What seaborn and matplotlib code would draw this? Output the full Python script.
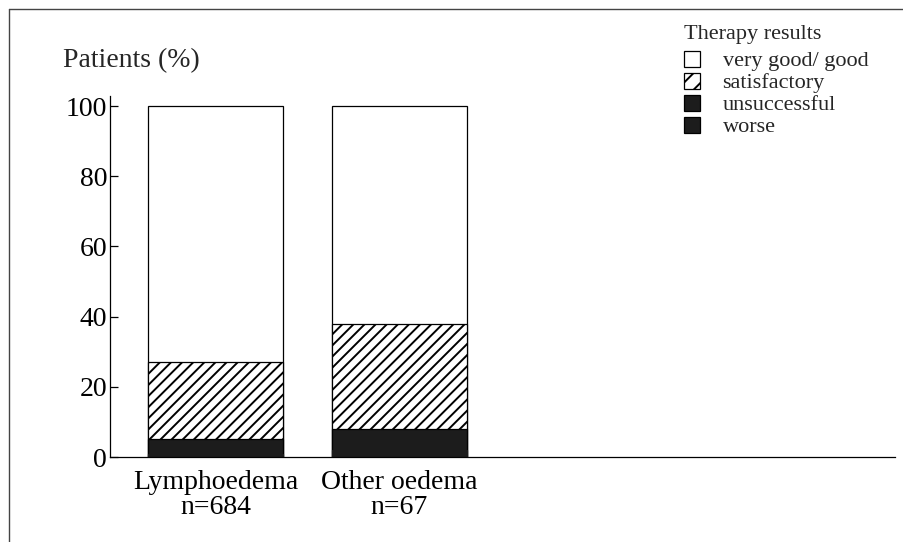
import matplotlib
matplotlib.use('Agg')
import matplotlib.pyplot as plt
from matplotlib.patches import Patch
from matplotlib.lines import Line2D
import seaborn as sns
import pandas as pd

sns.set_theme(style="white")
plt.rcParams['font.family'] = ['Liberation Serif', 'DejaVu Serif']
plt.rcParams['hatch.linewidth'] = 1.4

# --- data (percent of patients) ---
groups = ['Lymphoedema\nn=684', 'Other oedema\nn=67']
very_good = [73, 62]
satisfactory = [22, 30]
unsuccessful = [4, 6]
worse = [1, 2]
y_ticks = [0, 20, 40, 60, 80, 100]

df = pd.DataFrame({'group': groups, 'worse': worse, 'unsuccessful': unsuccessful,
                   'satisfactory': satisfactory, 'very_good': very_good})
df['c_worse'] = df['worse']
df['c_unsucc'] = df['c_worse'] + df['unsuccessful']
df['c_satis'] = df['c_unsucc'] + df['satisfactory']
df['c_total'] = df['c_satis'] + df['very_good']

fig = plt.figure(figsize=(9.04, 5.42), dpi=100)
ax = fig.add_axes([0.1217, 0.1568, 0.8683, 0.667])

dark = '#1c1c1c'
bar_w = 0.734
# draw cumulative totals back to front so they stack
layers = [('c_total', 'white', None, 'black'), ('c_satis', 'white', '///', 'black'),
          ('c_unsucc', dark, None, 'black'), ('c_worse', dark, None, dark)]
for col, fc, hatch, ec in layers:
    n0 = len(ax.patches)
    sns.barplot(data=df, x='group', y=col, color=fc, width=bar_w, saturation=1,
                edgecolor=ec, linewidth=0.9, ax=ax)
    for p in ax.patches[n0:]:
        p.set_facecolor(fc)
        if hatch:
            p.set_hatch(hatch)
            p.set_edgecolor('black')

ax.set_xlim(-0.573, 3.693)
ax.set_ylim(0, 103)
ax.set_yticks(y_ticks)
ax.set_yticklabels([str(t) for t in y_ticks])
ax.set_xlabel('')
ax.set_ylabel('')
for s in ['top', 'right']:
    ax.spines[s].set_visible(False)
for s in ['left', 'bottom']:
    ax.spines[s].set_color('black')
    ax.spines[s].set_linewidth(0.9)
ax.tick_params(axis='y', direction='in', length=6, width=0.9, pad=2, labelsize=20,
               left=True, colors='black')
ax.tick_params(axis='x', length=0, pad=9, labelsize=20, colors='black')
for lbl in ax.get_xticklabels():
    lbl.set_linespacing(1.05)

fig.text(0.07, 0.888, 'Patients (%)', fontsize=20, ha='left', va='center')

handles = [Patch(facecolor='white', edgecolor='black', linewidth=0.9),
           Patch(facecolor='white', edgecolor='black', hatch='//', linewidth=0.9),
           Patch(facecolor=dark, edgecolor='black', linewidth=0.9),
           Patch(facecolor=dark, edgecolor='black', linewidth=0.9)]
leg = fig.legend(handles, ['very good/ good', 'satisfactory', 'unsuccessful', 'worse'],
                 title='Therapy results', loc='upper left', bbox_to_anchor=(0.744, 0.975),
                 frameon=False, fontsize=16, title_fontsize=16, handlelength=0.75,
                 handleheight=0.75, handletextpad=1.0, labelspacing=0.05, borderpad=0)
leg._legend_box.align = 'left'
leg._legend_box.sep = 5

# page frame lines
fig.add_artist(Line2D([0.010, 0.010], [0.0, 0.983], color='#444444', lw=1.0))
fig.add_artist(Line2D([0.010, 1.0], [0.983, 0.983], color='#444444', lw=1.0))

fig.savefig('out.png', dpi=100)
